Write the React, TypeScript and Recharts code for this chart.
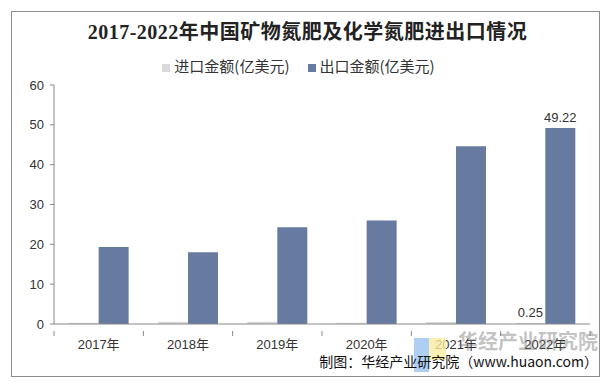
import React from "react";
import {
  BarChart,
  Bar,
  XAxis,
  YAxis,
  Legend,
  LabelList,
} from "recharts";

const years = ["2017年", "2018年", "2019年", "2020年", "2021年", "2022年"];
const importValues = [0.3, 0.55, 0.55, 0.3, 0.5, 0.25];
const exportValues = [19.3, 18.0, 24.3, 26.0, 44.6, 49.22];
const yTicks = [0, 10, 20, 30, 40, 50, 60];
const seriesOrder = ["import", "export"];

const data = years.map((year, i) => ({
  year,
  import: importValues[i],
  export: exportValues[i],
}));

const W = 615;
const H = 388;
// legend takes ~20px above the plot
const margin = { top: 64, right: 25, bottom: 34, left: 0 };
const yAxisWidth = 54;
const plotWidth = W - margin.left - margin.right - yAxisWidth;
const band = plotWidth / years.length;

const numFont = '"Liberation Sans", "Noto Sans CJK SC", sans-serif';
const cjkFont = '"Noto Sans CJK SC", "Liberation Sans", sans-serif';

// excel style: tick marks sit between categories, labels in the middle
function XTick(props: any) {
  const { x, y, payload, index } = props;
  const left = x - band / 2;
  return (
    <g>
      <line x1={left} y1={y - 1} x2={left} y2={y + 4} stroke="#888" />
      {index === years.length - 1 && (
        <line x1={left + band} y1={y - 1} x2={left + band} y2={y + 4} stroke="#888" />
      )}
      <text
        x={x}
        y={y + 17}
        textAnchor="middle"
        fontSize={13}
        fill="#333"
        fontFamily={numFont}
      >
        {payload.value}
      </text>
    </g>
  );
}

function lastLabel(props: any) {
  const { x, y, width, value, index } = props;
  if (index !== years.length - 1) return null;
  return (
    <text
      x={x + width / 2}
      y={y - 6}
      textAnchor="middle"
      fontSize={13}
      fill="#333"
      fontFamily={numFont}
    >
      {value}
    </text>
  );
}

export default function App() {
  return (
    <div
      style={{
        position: "absolute",
        left: 0,
        top: 0,
        width: W,
        height: H,
        background: "#fff",
      }}
    >
      <div
        style={{
          position: "absolute",
          left: 11,
          top: 11,
          width: 589,
          height: 366,
          border: "1px solid #8c8c8c",
          boxSizing: "border-box",
        }}
      />
      <div
        style={{
          position: "absolute",
          left: 0,
          top: 16,
          width: W,
          textAlign: "center",
          fontFamily: '"Liberation Serif", "Noto Sans CJK SC", serif',
          fontWeight: "bold",
          fontSize: 20,
          color: "#222",
          letterSpacing: 0.5,
        }}
      >
        2017-2022年中国矿物氮肥及化学氮肥进出口情况
      </div>
      <BarChart
        width={W}
        height={H}
        data={data}
        margin={margin}
        barGap={0}
        barCategoryGap="16.4%"
      >
        <XAxis
          dataKey="year"
          tick={<XTick />}
          tickLine={false}
          axisLine={{ stroke: "#888" }}
          interval={0}
          height={30}
        />
        <YAxis
          width={yAxisWidth}
          domain={[0, 60]}
          ticks={yTicks}
          tickSize={4}
          tickMargin={6}
          tick={{ fontSize: 13, fill: "#333", fontFamily: numFont }}
          tickLine={{ stroke: "#888" }}
          axisLine={{ stroke: "#888" }}
        />
        <Legend
          verticalAlign="top"
          iconType="square"
          iconSize={8}
          itemSorter={(item: any) => seriesOrder.indexOf(item.dataKey)}
          wrapperStyle={{ top: 55, left: 0, width: W, fontFamily: cjkFont, fontSize: 15 }}
          formatter={(value: string) => (
            <span style={{ color: "#333", marginRight: 8 }}>{value}</span>
          )}
        />
        <Bar
          dataKey="import"
          name="进口金额(亿美元)"
          fill="#d9d9d9"
          isAnimationActive={false}
        >
          <LabelList dataKey="import" content={lastLabel} />
        </Bar>
        <Bar
          dataKey="export"
          name="出口金额(亿美元)"
          fill="#677ba1"
          isAnimationActive={false}
        >
          <LabelList dataKey="export" content={lastLabel} />
        </Bar>
      </BarChart>
      {/* watermark */}
      <div
        style={{
          position: "absolute",
          left: 414,
          top: 338,
          width: 15,
          height: 34,
          background: "rgba(140,185,240,0.7)",
        }}
      />
      <div
        style={{
          position: "absolute",
          left: 429,
          top: 338,
          width: 17,
          height: 22,
          background: "rgba(250,235,160,0.8)",
        }}
      />
      <div
        style={{
          position: "absolute",
          left: 458,
          top: 326,
          fontFamily: cjkFont,
          fontWeight: "bold",
          fontSize: 20,
          color: "rgba(120,120,120,0.45)",
        }}
      >
        华经产业研究院
      </div>
      <div
        style={{
          position: "absolute",
          right: 17,
          top: 351,
          fontFamily: cjkFont,
          fontSize: 14,
          color: "#111",
        }}
      >
        制图：华经产业研究院（www.huaon.com）
      </div>
    </div>
  );
}
